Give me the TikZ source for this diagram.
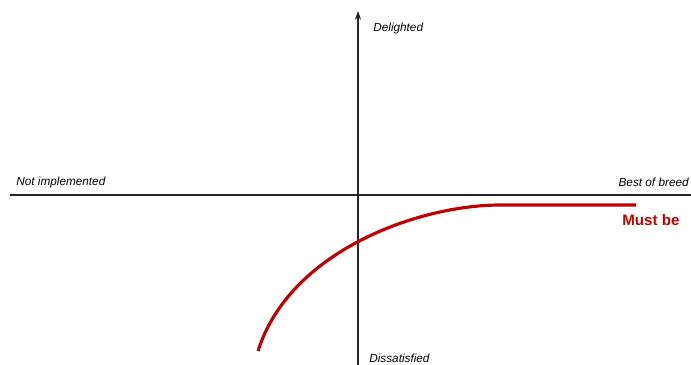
\documentclass[tikz,border=0pt]{standalone}
\usepackage{fontspec}
\setmainfont{Liberation Sans}
\usepackage{xcolor}
\usetikzlibrary{arrows.meta}
\definecolor{mustred}{HTML}{C00000}

\tikzset{
  axislabel/.style={font=\fontsize{6.7}{8}\selectfont\itshape, inner sep=0pt},
  curvelabel/.style={font=\fontsize{8.6}{10}\selectfont\bfseries, text=mustred, inner sep=0pt}
}

\begin{document}
\begin{tikzpicture}[x=0.02cm, y=-0.02cm]

\useasboundingbox (0,0) rectangle (691,365);

% Ejes
\coordinate (left) at (10,195);
\coordinate (right) at (691,195);
\coordinate (bottom) at (358,365);
\coordinate (top) at (358,11);
\draw[line width=1.1pt, black!85] (left) -- (right);
\draw[line width=1.1pt, black!85, -{Stealth[length=5pt,width=3.5pt]}] (bottom) -- (top);

% Curva "Must be"
\coordinate (start) at (258,351);
\coordinate (knee) at (500,205);
\coordinate (finish) at (636,205);
\draw[line width=1.8pt, mustred] (start) .. controls (290,250) and (420,205) .. (knee) -- (finish);

% Etiquetas
\node[axislabel, anchor=west] (delighted) at (373,28) {Delighted};
\node[axislabel, anchor=west] (dissatisfied) at (369,358) {Dissatisfied};
\node[axislabel, anchor=west] (notimpl) at (16,182) {Not implemented};
\node[axislabel, anchor=east] (best) at (689,182) {Best of breed};
\node[curvelabel, anchor=west] (mustbe) at (622,220) {Must be};

\end{tikzpicture}
\end{document}
